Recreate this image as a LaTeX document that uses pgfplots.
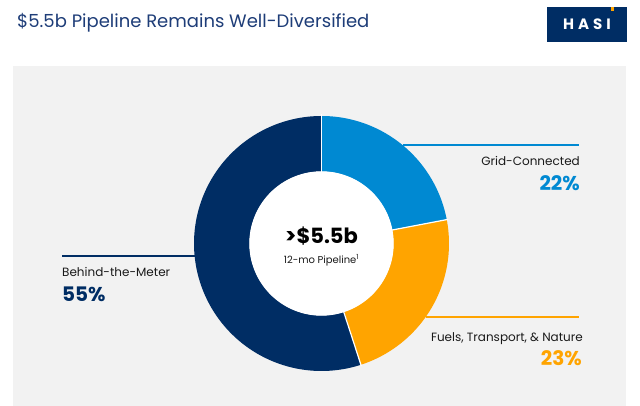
\documentclass[border=0pt]{standalone}
\usepackage{pgfplots}
\pgfplotsset{compat=1.18}
\usepackage{pgfplotstable}
\usepackage{fontspec}
\setmainfont{Poppins}
\definecolor{navy}{HTML}{002D64}
\definecolor{gblue}{HTML}{0089D2}
\definecolor{gorange}{HTML}{FFA400}
\definecolor{titlecol}{HTML}{1E3D78}
\definecolor{panel}{HTML}{F2F2F2}
\definecolor{txt}{HTML}{1A1A1A}
\pgfplotstableread{
segment share
Grid-Connected 22
Fuels 23
Behind-the-Meter 55
}\shares
\begin{document}
\begin{tikzpicture}
\pgfplotstablegetelem{0}{share}\of\shares
\pgfmathsetmacro{\aA}{90-3.6*\pgfplotsretval}
\pgfplotstablegetelem{1}{share}\of\shares
\pgfmathsetmacro{\aB}{\aA-3.6*\pgfplotsretval}
\pgfplotstablegetelem{2}{share}\of\shares
\pgfmathsetmacro{\aC}{\aB-3.6*\pgfplotsretval}
\begin{axis}[
  x=1pt, y=1pt,
  xmin=-321.5, xmax=318.5, ymin=-162.5, ymax=243.5,
  hide axis, clip=false, no markers,
]
% backgrounds
\addplot[fill=white, draw=none] coordinates {(-321.5,-162.5) (318.5,-162.5) (318.5,243.5) (-321.5,243.5)} -- cycle;
\addplot[fill=panel, draw=none] coordinates {(-308.5,-162.5) (304.5,-162.5) (304.5,177.5) (-308.5,177.5)} -- cycle;
% donut slices
\addplot[data cs=polar, domain=\aA:90, samples=80, line width=55.5pt, draw=gblue] ({x},{99.75});
\addplot[data cs=polar, domain=\aB:\aA, samples=80, line width=55.5pt, draw=gorange] ({x},{99.75});
\addplot[data cs=polar, domain=\aC:\aB, samples=150, line width=55.5pt, draw=navy] ({x},{99.75});
% separators
\addplot[data cs=polar, white, line width=1.2pt] coordinates {(90,70) (90,129)};
\addplot[data cs=polar, white, line width=1.2pt] coordinates {(\aA,70) (\aA,129)};
\addplot[data cs=polar, white, line width=1.2pt] coordinates {(\aB,70) (\aB,129)};
% centre disk
\addplot[data cs=polar, domain=0:360, samples=120, fill=white, draw=none] ({x},{72.2}) -- cycle;
% leader lines
\addplot[gblue, line width=1.2pt] coordinates {(81,98.5) (257.5,98.5)};
\addplot[gorange, line width=1.2pt] coordinates {(104,-73.5) (257.5,-73.5)};
\addplot[navy, line width=1.2pt] coordinates {(-259.5,-12.5) (-127,-12.5)};
% logo
\addplot[fill=navy, draw=none] coordinates {(225.5,201.5) (305.5,201.5) (305.5,236.5) (225.5,236.5)} -- cycle;
\addplot[fill=gorange, draw=none] coordinates {(289.5,232.5) (292.5,232.5) (292.5,236.5) (289.5,236.5)} -- cycle;
\node[anchor=base, text=white, font=\fontsize{15}{15}\selectfont\bfseries] at (axis cs:265.5,213.5) {H\kern4ptA\kern4ptS\kern4ptI};
% title
\node[anchor=base west, inner sep=0pt, text=titlecol, font=\fontsize{18}{18}\selectfont] at (axis cs:-304.5,215.5) {\$5.5b Pipeline Remains Well-Diversified};
% labels
\node[anchor=base east, inner sep=0pt, text=txt, font=\fontsize{12}{12}\selectfont] at (axis cs:258.5,77.5) {Grid-Connected};
\node[anchor=base east, inner sep=0pt, text=gblue, font=\fontsize{20}{20}\selectfont\bfseries] at (axis cs:258.5,52.5) {22\%};
\node[anchor=base east, inner sep=0pt, text=txt, font=\fontsize{12}{12}\selectfont] at (axis cs:261.5,-98.2) {Fuels, Transport, \& Nature};
\node[anchor=base east, inner sep=0pt, text=gorange, font=\fontsize{20}{20}\selectfont\bfseries] at (axis cs:260.5,-122.5) {23\%};
\node[anchor=base west, inner sep=0pt, text=txt, font=\fontsize{12}{12}\selectfont] at (axis cs:-259.5,-33.2) {Behind-the-Meter};
\node[anchor=base west, inner sep=0pt, text=navy, font=\fontsize{20}{20}\selectfont\bfseries] at (axis cs:-259.5,-58.5) {55\%};
\node[anchor=base, inner sep=0pt, text=black, font=\fontsize{21}{21}\selectfont\bfseries] at (axis cs:0,0.2) {>\$5.5b};
\node[anchor=base, inner sep=0pt, text=txt, font=\fontsize{10}{10}\selectfont] at (axis cs:0,-19.8) {12-mo Pipeline\textsuperscript{1}};
\end{axis}
\end{tikzpicture}
\end{document}
